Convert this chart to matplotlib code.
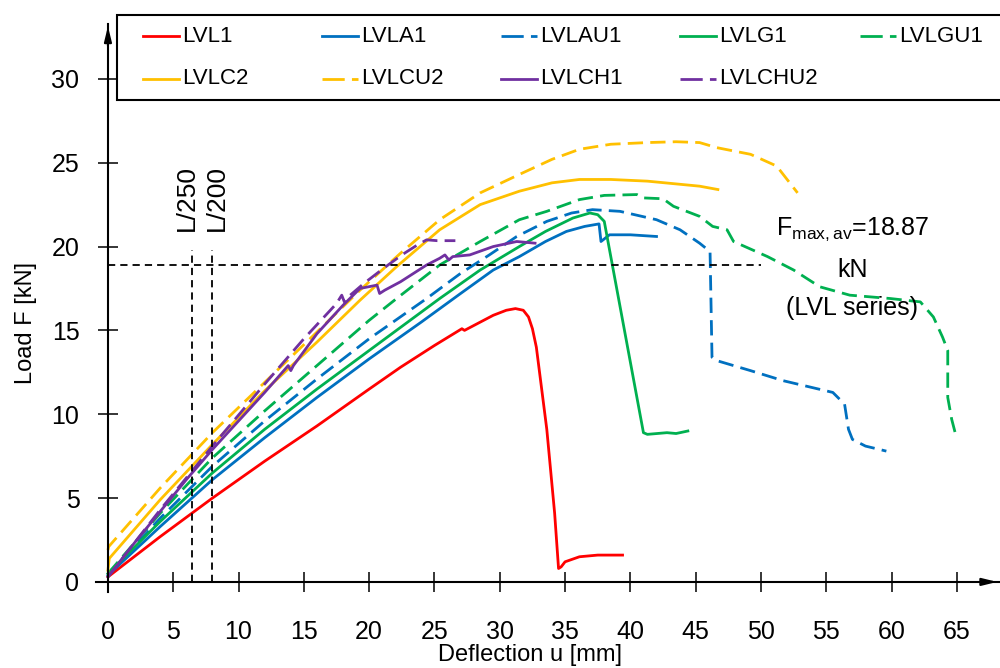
import matplotlib
matplotlib.use('Agg')
import matplotlib.pyplot as plt
from matplotlib.lines import Line2D
from matplotlib.patches import Rectangle

FONT = ['Liberation Sans', 'DejaVu Sans']
plt.rcParams['font.family'] = FONT
plt.rcParams['mathtext.fontset'] = 'custom'
plt.rcParams['mathtext.rm'] = 'Liberation Sans'
plt.rcParams['mathtext.it'] = 'Liberation Sans'

# ---------------- data (deflection mm, load kN) ----------------
lvl1_x = [0, 4, 8, 12, 16, 20, 22.4, 25, 27.1, 27.3, 29.5, 30.5, 31.2, 31.8, 32.2, 32.5, 32.8, 33.6, 34.2, 34.5, 34.7, 35.0, 36.1, 37.5, 39.4]
lvl1_y = [0.3, 2.7, 5.0, 7.2, 9.3, 11.5, 12.8, 14.1, 15.1, 15.0, 15.9, 16.2, 16.3, 16.2, 15.8, 15.1, 14.0, 9.1, 4.1, 0.8, 0.9, 1.2, 1.5, 1.6, 1.6]

lvla1_x = [0, 4, 8, 12, 16, 20, 24, 27.0, 29.5, 31.5, 33.5, 35.1, 36.5, 37.6, 37.75, 38.4, 40, 42]
lvla1_y = [0.4, 3.3, 6.1, 8.6, 11.0, 13.3, 15.5, 17.2, 18.6, 19.4, 20.3, 20.9, 21.2, 21.35, 20.3, 20.7, 20.7, 20.6]

lvlau1_x = [0, 4, 8, 12, 16, 20, 24.4, 27.0, 29.2, 31.3, 33.6, 35.5, 37.1, 39.2, 42.0, 43.8, 45.3, 46.1, 46.25, 46.6, 49.2, 51.7, 55.5, 56.4, 56.7, 57.0, 58.0, 59.6]
lvlau1_y = [0.4, 3.8, 6.9, 9.6, 12.1, 14.5, 16.9, 18.4, 19.5, 20.6, 21.5, 22.0, 22.2, 22.1, 21.6, 21.0, 20.2, 19.7, 13.4, 13.2, 12.6, 12.0, 11.3, 10.6, 9.1, 8.5, 8.1, 7.8]

lvlg1_x = [0, 4, 8, 12, 16, 20, 25.4, 28.5, 31.5, 33.5, 35.6, 36.9, 37.5, 38.0, 41.0, 41.3, 42.8, 43.5, 44.4]
lvlg1_y = [0.5, 3.6, 6.5, 9.1, 11.5, 13.8, 16.9, 18.6, 20.0, 20.9, 21.7, 22.0, 21.9, 21.5, 8.9, 8.8, 8.9, 8.85, 9.0]

lvlgu1_x = [0, 4, 8, 12, 16, 20, 22.1, 25.4, 28.5, 31.5, 33.6, 36.1, 38.0, 40.5, 41.0, 42.5, 43.3, 45.3, 46.3, 47.4, 47.9, 50.5, 52.5, 54.5, 56.8, 59.9, 62.2, 63.2, 63.9, 64.3, 64.3, 64.6, 64.9]
lvlgu1_y = [0.5, 4.1, 7.4, 10.2, 12.9, 15.6, 16.9, 18.9, 20.3, 21.6, 22.1, 22.8, 23.05, 23.1, 22.9, 22.85, 22.4, 21.8, 21.2, 21.0, 20.3, 19.4, 18.6, 17.6, 17.1, 16.9, 16.7, 15.8, 14.6, 13.8, 11.0, 9.7, 8.8]

lvlc2_x = [0, 0.1, 4, 8, 12, 16, 19.3, 22.1, 25.4, 28.5, 31.5, 34.0, 36.1, 38.5, 41.3, 45.3, 46.7]
lvlc2_y = [0.7, 1.4, 4.9, 8.2, 11.4, 14.3, 16.8, 18.8, 21.0, 22.5, 23.3, 23.8, 24.0, 24.0, 23.9, 23.6, 23.4]

lvlcu2_x = [0, 0.05, 4, 8, 12, 16, 19.3, 22.4, 25.4, 28.5, 31.5, 34.0, 36.1, 38.5, 41.3, 43.5, 45.3, 46.6, 49.2, 51.2, 52.8]
lvlcu2_y = [1.9, 2.1, 5.6, 8.9, 11.9, 14.9, 17.4, 19.6, 21.6, 23.2, 24.3, 25.2, 25.8, 26.1, 26.2, 26.25, 26.2, 25.9, 25.5, 24.8, 23.2]

lvlch1_x = [0, 2, 4, 6, 8, 10, 12, 13.8, 14.0, 14.2, 16, 18, 19.3, 20.6, 20.8, 21.2, 22.4, 24.4, 25.4, 25.8, 26.1, 26.4, 27.7, 29.5, 31.3, 32.7]
lvlch1_y = [0.3, 2.3, 4.2, 6.1, 7.9, 9.6, 11.3, 12.9, 12.6, 12.9, 14.8, 16.5, 17.5, 17.7, 17.2, 17.4, 17.9, 18.9, 19.3, 19.5, 19.2, 19.4, 19.5, 20.0, 20.3, 20.2]

lvlchu2_x = [0, 4, 8, 12, 15, 17.5, 17.9, 18.1, 18.4, 19.6, 21.1, 22.5, 23.7, 24.4, 25.2, 26.6]
lvlchu2_y = [0.3, 4.3, 8.1, 11.8, 14.5, 16.6, 17.1, 16.7, 17.0, 17.8, 18.7, 19.5, 20.1, 20.4, 20.35, 20.35]

labels = ['LVL1', 'LVLA1', 'LVLAU1', 'LVLG1', 'LVLGU1', 'LVLC2', 'LVLCU2', 'LVLCH1', 'LVLCHU2']
colors = ['#FF0000', '#0070C0', '#0070C0', '#00B050', '#00B050', '#FFC000', '#FFC000', '#7030A0', '#7030A0']
dashed = [False, False, True, False, True, False, True, False, True]
series_x = [lvl1_x, lvla1_x, lvlau1_x, lvlg1_x, lvlgu1_x, lvlc2_x, lvlcu2_x, lvlch1_x, lvlchu2_x]
series_y = [lvl1_y, lvla1_y, lvlau1_y, lvlg1_y, lvlgu1_y, lvlc2_y, lvlcu2_y, lvlch1_y, lvlchu2_y]

x_ticks = [0, 5, 10, 15, 20, 25, 30, 35, 40, 45, 50, 55, 60, 65]
y_ticks = [0, 5, 10, 15, 20, 25, 30]

f_max_av = 18.87
l250 = 6.4
l200 = 8.0

# ---------------- figure ----------------
fig = plt.figure(figsize=(10, 6.68), dpi=100)
XMIN, XMAX = -0.9, 68.3
YMIN, YMAX = -0.6, 33.3
ax = fig.add_axes([0.0962, 0.1138, 0.9038, 0.851])
ax.set_xlim(XMIN, XMAX)
ax.set_ylim(YMIN, YMAX)

DASH = (5.5, 2.6)
handles = []
for xs, ys, c, d, lab in zip(series_x, series_y, colors, dashed, labels):
    ln, = ax.plot(xs, ys, color=c, lw=2.0, label=lab, solid_joinstyle='round')
    if d:
        ln.set_dashes(DASH)
    handles.append(ln)

# reference lines
blk = dict(color='black', lw=1.3, dashes=(4, 2.8))
ax.plot([0, 50], [f_max_av, f_max_av], **blk)
ax.plot([l250, l250], [0, 19.8], **blk)
ax.plot([l200, l200], [0, 19.8], **blk)

ax.text(6.05, 20.9, 'L/250', rotation=90, ha='center', va='bottom', fontsize=19)
ax.text(8.35, 20.9, 'L/200', rotation=90, ha='center', va='bottom', fontsize=19)

ax.text(57.0, 20.7, r'F$_{\mathrm{max,av}}$=18.87', ha='center', va='baseline', fontsize=18)
ax.text(57.0, 18.2, 'kN', ha='center', va='baseline', fontsize=18)
ax.text(57.0, 15.9, '(LVL series)', ha='center', va='baseline', fontsize=18)

# axes styling
for s in ['top', 'right']:
    ax.spines[s].set_visible(False)
ax.spines['left'].set_position(('data', 0))
ax.spines['bottom'].set_position(('data', 0))
for s in ['left', 'bottom']:
    ax.spines[s].set_linewidth(1.5)
ax.set_xticks(x_ticks)
ax.set_yticks(y_ticks)
ax.tick_params(axis='both', direction='inout', length=15, width=1.1, labelsize=18)
ax.tick_params(axis='x', pad=20)
ax.tick_params(axis='y', pad=13)

ax.annotate('', xy=(XMAX, 0), xytext=(XMAX - 1.5, 0),
            arrowprops=dict(arrowstyle='-|>,head_length=0.9,head_width=0.22', color='black', lw=1.5),
            annotation_clip=False)
ax.annotate('', xy=(0, YMAX), xytext=(0, YMAX - 1.5),
            arrowprops=dict(arrowstyle='-|>,head_length=0.9,head_width=0.22', color='black', lw=1.5),
            annotation_clip=False)

ax.set_xlabel('Deflection u [mm]', fontsize=17)
ax.xaxis.set_label_coords(0.48, -0.111)
ax.xaxis.label.set_va('center')
ax.set_ylabel('Load F [kN]', fontsize=17)
ax.yaxis.set_label_coords(-0.0777, 0.473)
ax.yaxis.label.set_va('center')

# legend (drawn as a framed two-row key at the top)
W, H = 1000.0, 668.0
fig.patches.append(Rectangle((117 / W, 1 - 100 / H), 0.95, 85 / H, transform=fig.transFigure,
                             fill=True, facecolor='white', edgecolor='black', lw=1.5, zorder=5))
col_x = [143, 322, 501, 680, 860]
row_y = [36, 79]
for i, (h, lab) in enumerate(zip(handles, labels)):
    r, c = divmod(i, 5)
    x0 = col_x[c] / W
    y0 = 1 - row_y[r] / H
    ln = Line2D([x0, x0 + 36 / W], [y0, y0], transform=fig.transFigure, color=h.get_color(),
                lw=2.0, zorder=6)
    if dashed[i]:
        ln.set_dashes((8, 2.6))
    fig.add_artist(ln)
    fig.text(x0 + 39 / W, y0, lab, ha='left', va='center', fontsize=16, zorder=6)

fig.savefig('out.png', dpi=100)
